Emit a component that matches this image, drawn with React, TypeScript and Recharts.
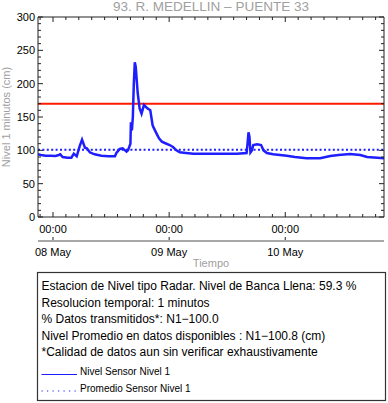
import React from 'react';
import { LineChart, Line, XAxis, YAxis, ReferenceLine, Label } from 'recharts';

// Hours since 08 May 00:00
const hours = [
  -3.1, -2.5, -1.5, -0.5, 0.5, 1.2, 1.5, 2.0, 3.0, 3.8, 4.3, 4.9, 5.5, 6.0, 6.6, 7.0, 7.6, 8.6,
  10, 11.5, 12.8, 13.1, 13.8, 14.4, 15.2, 15.5, 15.7, 16.0, 16.1, 16.3, 16.5, 16.7, 16.9, 17.1,
  17.5, 17.9, 18.3, 18.8, 19.5, 20.1, 20.6, 21.2, 21.9, 22.5, 23.1, 24.1, 24.8, 25.5, 26.2, 27.5,
  29, 32, 35, 38, 40.0, 40.2, 40.4, 40.6, 40.8, 41.1, 41.4, 42.2, 43.0, 43.5, 44.2, 45.5, 48.3,
  50, 52.4, 55.2, 57.3, 59, 61.4, 63.5, 64.9, 67, 68.4,
];
const levels = [
  94, 93, 92, 92, 91.5, 93, 94, 90, 89, 89, 95, 91, 106, 116, 104, 103, 97, 94,
  92, 91, 91, 96, 102, 103, 98, 100, 104, 110, 142, 130, 150, 200, 232, 225,
  186, 163, 155, 168, 163, 160, 137, 128, 118, 113, 111, 108, 105, 100, 97, 96,
  95, 95, 95, 95, 96, 110, 127, 120, 97, 100, 108, 109, 108, 100, 96, 94, 92,
  90, 88, 88, 91.5, 93, 94.5, 93, 90, 89, 88,
];

const titleText = '93. R. MEDELLIN – PUENTE 33';
const yAxisTitle = 'Nivel 1 minutos (cm)';
const xAxisTitle = 'Tiempo';
const bankfullLevel = 170;
const meanLevel = 100.8;
const majorTimeTicks = [0, 24, 48];
const timeTickLabels = ['00:00', '00:00', '00:00'];
const dateTickLabels = ['08 May', '09 May', '10 May'];
const yMajorTicks = [0, 50, 100, 150, 200, 250, 300];
const legendLines = [
  'Estacion de Nivel tipo Radar. Nivel de Banca Llena: 59.3 %',
  'Resolucion temporal: 1 minutos',
  '% Datos transmitidos*: N1\u2212100.0',
  'Nivel Promedio en datos disponibles : N1\u2212100.8 (cm)',
  '*Calidad de datos aun sin verificar exhaustivamente',
];
const seriesNames = ['Nivel Sensor Nivel 1', 'Promedio Sensor Nivel 1'];

const X_DOMAIN = [-3.1, 68.4];
const Y_DOMAIN = [0, 300];

const data = hours.map((h, i) => ({ h, nivel: levels[i] }));

const minorXTicks: number[] = [];
for (let k = -1; k <= 25; k++) minorXTicks.push((k * 24) / 9);
const yTicksAll: number[] = [];
for (let v = 0; v <= 300; v += 10) yTicksAll.push(v);

const FONT = '"Liberation Sans", Arial, Helvetica, sans-serif';
const BLUE = '#1e1eff';
const FRAME = '#222';

const isMajorX = (v: number) => majorTimeTicks.some((m) => Math.abs(m - v) < 1e-6);
const isMajorY = (v: number) => yMajorTicks.some((m) => Math.abs(m - v) < 1e-6);

const TimeTick = (props: any) => {
  const { x, y, payload } = props;
  const v = payload.value;
  const major = isMajorX(v);
  const idx = majorTimeTicks.findIndex((m) => Math.abs(m - v) < 1e-6);
  return (
    <g>
      <line x1={x} x2={x} y1={y} y2={y - (major ? 5 : 3)} stroke={FRAME} strokeWidth={1} />
      {major && (
        <text x={x} y={y + 16} textAnchor="middle" fontSize={11} fontFamily={FONT} fill="#000">
          {timeTickLabels[idx]}
        </text>
      )}
    </g>
  );
};

const TopTick = (props: any) => {
  const { x, y, payload } = props;
  const major = isMajorX(payload.value);
  return <line x1={x} x2={x} y1={y} y2={y + (major ? 5 : 3)} stroke={FRAME} strokeWidth={1} />;
};

const DateTick = (props: any) => {
  const { x, y, payload } = props;
  const idx = majorTimeTicks.findIndex((m) => Math.abs(m - payload.value) < 1e-6);
  return (
    <g>
      <line x1={x} x2={x} y1={y - 1} y2={y - 4} stroke={FRAME} strokeWidth={1} />
      <text x={x} y={y + 15} textAnchor="middle" fontSize={11} fontFamily={FONT} fill="#000">
        {dateTickLabels[idx]}
      </text>
    </g>
  );
};

const LeftTick = (props: any) => {
  const { x, y, payload } = props;
  const major = isMajorY(payload.value);
  return (
    <g>
      <line x1={x} x2={x + (major ? 5 : 3)} y1={y} y2={y} stroke={FRAME} strokeWidth={1} />
      {major && (
        <text x={x - 3} y={y + 4} textAnchor="end" fontSize={11} fontFamily={FONT} fill="#000">
          {payload.value}
        </text>
      )}
    </g>
  );
};

const RightTick = (props: any) => {
  const { x, y, payload } = props;
  const major = isMajorY(payload.value);
  return <line x1={x} x2={x - (major ? 5 : 3)} y1={y} y2={y} stroke={FRAME} strokeWidth={1} />;
};

export default function App() {
  return (
    <div style={{ position: 'absolute', left: 0, top: 0, width: 388, height: 403, background: '#fff' }}>
      <LineChart
        width={388}
        height={271}
        data={data}
        margin={{ top: 16, right: 3, left: 0, bottom: 0 }}
      >
        <XAxis
          xAxisId="a_time"
          dataKey="h"
          type="number"
          domain={X_DOMAIN}
          allowDataOverflow
          ticks={minorXTicks}
          interval={0}
          tickSize={0}
          tickMargin={0}
          tickLine={false}
          axisLine={{ stroke: FRAME, strokeWidth: 1 }}
          tick={<TimeTick />}
          height={24}
        />
        <XAxis
          xAxisId="b_date"
          dataKey="h"
          type="number"
          domain={X_DOMAIN}
          allowDataOverflow
          ticks={majorTimeTicks}
          interval={0}
          tickSize={0}
          tickMargin={0}
          tickLine={false}
          axisLine={{ stroke: '#a8a8a8', strokeWidth: 2 }}
          tick={<DateTick />}
          height={30}
        >
          <Label
            value={xAxisTitle}
            position="insideBottom"
            offset={4}
            fontSize={11}
            fontFamily={FONT}
            fill="#a0a0a0"
          />
        </XAxis>
        <XAxis
          xAxisId="c_top"
          dataKey="h"
          type="number"
          orientation="top"
          domain={X_DOMAIN}
          allowDataOverflow
          ticks={minorXTicks}
          interval={0}
          tickSize={0}
          tickMargin={0}
          tickLine={false}
          axisLine={{ stroke: FRAME, strokeWidth: 1 }}
          tick={<TopTick />}
          height={1}
        />
        <YAxis
          yAxisId="left"
          type="number"
          domain={Y_DOMAIN}
          allowDataOverflow
          ticks={yTicksAll}
          interval={0}
          tickSize={0}
          tickMargin={0}
          tickLine={false}
          axisLine={{ stroke: FRAME, strokeWidth: 1 }}
          tick={<LeftTick />}
          width={38}
        >
          <Label
            content={() => (
              <text
                x={10}
                y={117}
                transform="rotate(-90 10 117)"
                textAnchor="middle"
                fontSize={11}
                fontFamily={FONT}
                fill="#a0a0a0"
              >
                {yAxisTitle}
              </text>
            )}
          />
        </YAxis>
        <YAxis
          yAxisId="right"
          orientation="right"
          type="number"
          domain={Y_DOMAIN}
          allowDataOverflow
          ticks={yTicksAll}
          interval={0}
          tickSize={0}
          tickMargin={0}
          tickLine={false}
          axisLine={{ stroke: FRAME, strokeWidth: 1 }}
          tick={<RightTick />}
          width={1}
        />
        <ReferenceLine xAxisId="a_time" yAxisId="left" y={bankfullLevel} stroke="#ff1a00" strokeWidth={2} />
        <ReferenceLine
          xAxisId="a_time"
          yAxisId="left"
          y={meanLevel}
          stroke={BLUE}
          strokeWidth={2}
          strokeDasharray="2 2.4"
        />
        <Line
          xAxisId="a_time"
          yAxisId="left"
          type="linear"
          dataKey="nivel"
          stroke={BLUE}
          strokeWidth={2.5}
          dot={false}
          isAnimationActive={false}
        />
      </LineChart>
      <svg
        width={388}
        height={403}
        style={{ position: 'absolute', left: 0, top: 0, pointerEvents: 'none' }}
      >
        <text x={211} y={11} textAnchor="middle" fontSize={13.5} fontFamily={FONT} fill="#a0a0a0">
          {titleText}
        </text>
        <rect x={37.5} y={272.5} width={348} height={128} fill="none" stroke="#333" strokeWidth={1.2} />
        {legendLines.map((t, i) => (
          <text key={i} x={41.5} y={290 + i * 16.5} fontSize={12} fontFamily={FONT} fill="#000">
            {t}
          </text>
        ))}
        <line x1={41.5} x2={77} y1={374.5} y2={374.5} stroke={BLUE} strokeWidth={1.2} />
        <text x={80} y={375} fontSize={10} fontFamily={FONT} fill="#000">
          {seriesNames[0]}
        </text>
        <line x1={41.5} x2={77} y1={391} y2={391} stroke={BLUE} strokeWidth={1.2} strokeDasharray="1.2 4.3" />
        <text x={80} y={391.5} fontSize={10} fontFamily={FONT} fill="#000">
          {seriesNames[1]}
        </text>
      </svg>
    </div>
  );
}
